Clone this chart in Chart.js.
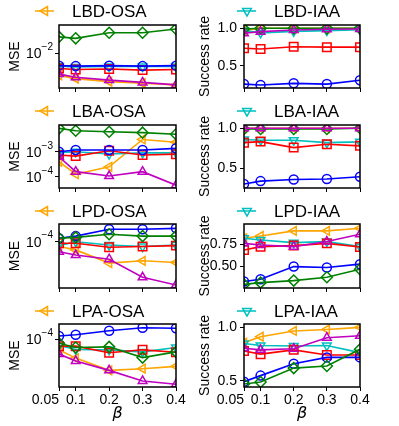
<!DOCTYPE html>
<html>
<head>
<meta charset="utf-8">
<script src="https://cdn.jsdelivr.net/npm/chart.js@4.4.0/dist/chart.umd.min.js"></script>
<style>
  html, body { margin: 0; padding: 0; background: #fff; }
  #fig { position: relative; width: 399px; height: 426px; overflow: hidden; }
  #fig canvas { position: absolute; }
</style>
</head>
<body>
<div id="fig"></div>
<script>
// x values (beta) and x tick labels
var betas = [0.05, 0.1, 0.2, 0.3, 0.4];
var xTickValues = [0.05, 0.1, 0.2, 0.3, 0.4];

var panelTitles = ['LBD-OSA', 'LBD-IAA', 'LBA-OSA', 'LBA-IAA', 'LPD-OSA', 'LPD-IAA', 'LPA-OSA', 'LPA-IAA'];

// each panel: rows in series order orange(<), cyan(v), red(s), blue(o), green(D), magenta(^)
var lbdOsa = [
  [0.0048, 0.0043, 0.0039, 0.0037, 0.0035],
  [0.0065, 0.0063, 0.0064, 0.0064, 0.0064],
  [0.0060, 0.0058, 0.0059, 0.0057, 0.0058],
  [0.0066, 0.0065, 0.0066, 0.0065, 0.0066],
  [0.0170, 0.0162, 0.0195, 0.0195, 0.0220],
  [0.0050, 0.0045, 0.0041, 0.0038, 0.0035]
];
var lbdIaa = [
  [0.97, 1.0, 1.0, 1.0, 1.0],
  [0.97, 0.94, 0.96, 0.97, 0.98],
  [0.735, 0.725, 0.756, 0.75, 0.75],
  [0.26, 0.248, 0.27, 0.26, 0.31],
  [0.99, 1.0, 1.0, 1.0, 1.0],
  [0.934, 0.956, 0.978, 0.987, 0.99]
];
var lbaOsa = [
  [4.0e-4, 1.26e-4, 2.5e-4, 3.1e-3, 2.4e-3],
  [9.1e-4, 1.0e-3, 8.1e-4, 9.0e-4, 9.0e-4],
  [7.4e-4, 6.7e-4, 1.1e-3, 7.4e-4, 8.0e-4],
  [1.0e-3, 1.17e-3, 1.17e-3, 1.17e-3, 1.37e-3],
  [8.6e-3, 6.9e-3, 6.3e-3, 5.8e-3, 5.0e-3],
  [6.3e-4, 1.6e-4, 1.07e-4, 1.6e-4, 4.6e-5]
];
var lbaIaa = [
  [1.0, 1.0, 1.0, 1.0, 1.0],
  [0.86, 0.85, 0.85, 0.82, 0.83],
  [0.82, 0.833, 0.758, 0.8, 0.78],
  [0.304, 0.34, 0.36, 0.366, 0.395],
  [0.99, 0.99, 0.99, 0.99, 1.0],
  [1.0, 1.0, 1.0, 1.0, 1.0]
];
var lpdOsa = [
  [8.3e-5, 7.3e-5, 4.4e-5, 4.8e-5, 4.5e-5],
  [8.6e-5, 1.0e-4, 8.8e-5, 8.3e-5, 8.8e-5],
  [9.4e-5, 9.4e-5, 8.1e-5, 8.3e-5, 8.6e-5],
  [1.14e-4, 1.24e-4, 1.61e-4, 1.61e-4, 1.67e-4],
  [1.14e-4, 1.18e-4, 1.33e-4, 1.24e-4, 1.24e-4],
  [6.8e-5, 6.0e-5, 5.1e-5, 2.55e-5, 1.9e-5]
];
var lpdIaa = [
  [0.817, 0.843, 0.9, 0.9, 0.93],
  [0.817, 0.798, 0.768, 0.78, 0.723],
  [0.686, 0.723, 0.735, 0.76, 0.72],
  [0.332, 0.358, 0.5, 0.49, 0.527],
  [0.30, 0.32, 0.343, 0.38, 0.47],
  [0.76, 0.742, 0.723, 0.78, 0.863]
];
var lpaOsa = [
  [6.6e-5, 4.8e-5, 3.0e-5, 3.2e-5, 3.5e-5],
  [7.8e-5, 6.7e-5, 6.6e-5, 6.1e-5, 7.2e-5],
  [7.6e-5, 7.6e-5, 5.9e-5, 6.6e-5, 6.0e-5],
  [1.12e-4, 1.18e-4, 1.37e-4, 1.54e-4, 1.51e-4],
  [8.5e-5, 7.2e-5, 7.4e-5, 4.9e-5, 6.1e-5],
  [5.6e-5, 4.3e-5, 3.0e-5, 2.0e-5, 1.76e-5]
];
var lpaIaa = [
  [0.857, 0.913, 0.966, 0.98, 1.0],
  [0.85, 0.83, 0.826, 0.83, 0.764],
  [0.78, 0.75, 0.79, 0.742, 0.742],
  [0.494, 0.55, 0.66, 0.72, 0.72],
  [0.472, 0.49, 0.62, 0.64, 0.795],
  [0.805, 0.79, 0.80, 0.903, 0.922]
];

// y ticks
var msePowers = [[-2], [-3, -4], [-4], [-4]];
var rateTicks = [[0.5, 1.0], [0.5, 1.0], [0.5, 0.75], [0.5, 1.0]];

var panelData = [lbdOsa, lbdIaa, lbaOsa, lbaIaa, lpdOsa, lpdIaa, lpaOsa, lpaIaa];

var seriesStyles = [
  { color: '#FFA500', pointStyle: 'triangle', rotation: -90, radius: 5 },
  { color: '#00BFBF', pointStyle: 'triangle', rotation: 180, radius: 5 },
  { color: '#FF0000', pointStyle: 'rect', rotation: 0, radius: 6 },
  { color: '#0000FF', pointStyle: 'circle', rotation: 0, radius: 4.5 },
  { color: '#008000', pointStyle: 'rectRot', rotation: 0, radius: 5.5 },
  { color: '#BF00BF', pointStyle: 'triangle', rotation: 0, radius: 5 }
];

var FONT = 'Liberation Sans';
var rowTop = [0, 100, 200, 300];
var rowH = [100, 100, 100, 126];
var plotTop = [25, 25, 24, 24];
var plotBottom = [88, 88, 88, 87];
// column layouts (canvas left, width, plot left, plot right) in canvas px
var cols = [
  { left: 0, width: 199, plotL: 59, plotR: 176, yTitle: 'MSE', titlePad: 7, legendX: -24 },
  { left: 192, width: 207, plotL: 52, plotR: 168, yTitle: 'Success rate', titlePad: 5, legendX: -7 }
];

function drawMarker(ctx, st, x, y) {
  ctx.save();
  ctx.strokeStyle = st.color;
  ctx.fillStyle = 'rgba(0,0,0,0)';
  ctx.lineWidth = 1.5;
  Chart.helpers.drawPoint(ctx, { pointStyle: st.pointStyle, rotation: st.rotation, radius: st.radius, borderWidth: 1.5 }, x, y);
  ctx.restore();
}

var panelPlugin = {
  id: 'panelDecor',
  afterDraw: function (chart) {
    var o = chart.options.plugins.panelDecor;
    var ctx = chart.ctx, a = chart.chartArea;
    ctx.save();
    // frame
    ctx.strokeStyle = '#000';
    ctx.lineWidth = 1.5;
    ctx.strokeRect(a.left, a.top, a.right - a.left, a.bottom - a.top);

    // log tick labels 10^p
    if (o.powers) {
      var ys = chart.scales.y;
      o.powers.forEach(function (p) {
        var y = ys.getPixelForValue(Math.pow(10, p));
        var exp = '\u2212' + Math.abs(p);
        ctx.fillStyle = '#000';
        ctx.textAlign = 'right';
        ctx.textBaseline = 'middle';
        ctx.font = '10px ' + FONT;
        var ew = ctx.measureText(exp).width;
        var xe = a.left - 6;
        ctx.fillText(exp, xe, y - 6);
        ctx.font = '14px ' + FONT;
        ctx.fillText('10', xe - ew, y + 1);
      });
    }

    // x tick labels on bottom row
    if (o.xLabels) {
      var xs = chart.scales.x;
      ctx.fillStyle = '#000';
      ctx.font = '14px ' + FONT;
      ctx.textBaseline = 'middle';
      xTickValues.forEach(function (v, i) {
        var x = xs.getPixelForValue(v);
        ctx.textAlign = i === 0 ? 'right' : 'center';
        ctx.fillText(String(v), i === 0 ? x : x, a.bottom + 13);
      });
    }

    // legend entry
    var st = seriesStyles[o.legendSeries];
    var lx = a.left + o.legendX;
    var ly = 11;
    ctx.strokeStyle = st.color;
    ctx.lineWidth = 1.5;
    ctx.beginPath();
    ctx.moveTo(lx, ly);
    ctx.lineTo(lx + 19, ly);
    ctx.stroke();
    drawMarker(ctx, st, lx + 10, ly);
    ctx.fillStyle = '#000';
    ctx.font = '17px ' + FONT;
    ctx.textAlign = 'left';
    ctx.textBaseline = 'middle';
    ctx.fillText(o.title, lx + 37, ly + 1);
    ctx.restore();
  }
};

var fig = document.getElementById('fig');

panelData.forEach(function (rows, idx) {
  var r = Math.floor(idx / 2), c = idx % 2;
  var col = cols[c];
  var isBottom = r === 3;
  var cv = document.createElement('canvas');
  cv.width = col.width;
  cv.height = rowH[r];
  cv.style.left = col.left + 'px';
  cv.style.top = rowTop[r] + 'px';
  cv.style.width = col.width + 'px';
  cv.style.height = rowH[r] + 'px';
  fig.appendChild(cv);

  var datasets = rows.map(function (vals, i) {
    var st = seriesStyles[i];
    return {
      label: panelTitles[idx] + ' ' + i,
      data: betas.map(function (b, k) { return { x: b, y: vals[k] }; }),
      borderColor: st.color,
      backgroundColor: st.color,
      borderWidth: 1.6,
      pointStyle: st.pointStyle,
      pointRotation: st.rotation,
      pointRadius: st.radius,
      pointBorderWidth: 1.5,
      pointBorderColor: st.color,
      pointBackgroundColor: 'rgba(0,0,0,0)',
      tension: 0,
      order: seriesStyles.length - i
    };
  });

  var yScale;
  var yTitle = {
    display: true, text: col.yTitle, color: '#000',
    font: { family: FONT, size: 14 }, padding: { top: col.titlePad, bottom: 0 }
  };
  var yGrid = { drawOnChartArea: false, drawTicks: true, tickLength: 4, color: '#000', lineWidth: 1 };
  if (c === 0) {
    var pw = msePowers[r];
    var ranges = [[-2.5, -1.6], [-4.45, -1.93], [-4.772, -3.705], [-4.8, -3.75]];
    yScale = {
      type: 'logarithmic',
      min: Math.pow(10, ranges[r][0]),
      max: Math.pow(10, ranges[r][1]),
      afterBuildTicks: function (s) { s.ticks = pw.map(function (p) { return { value: Math.pow(10, p) }; }); },
      ticks: { display: false },
      grid: yGrid,
      border: { display: false },
      title: yTitle,
      afterFit: function (s) { s.width = col.plotL; }
    };
  } else {
    var tv = rateTicks[r];
    var lims = [[0.208, 1.044], [0.254, 1.04], [0.26, 0.977], [0.444, 1.031]];
    var dec = r === 2 ? 2 : 1;
    yScale = {
      type: 'linear',
      min: lims[r][0],
      max: lims[r][1],
      afterBuildTicks: function (s) { s.ticks = tv.map(function (v) { return { value: v }; }); },
      ticks: {
        color: '#000', font: { family: FONT, size: 14 }, padding: 3,
        autoSkip: false, maxRotation: 0,
        callback: function (v) { return Number(v).toFixed(dec); }
      },
      grid: yGrid,
      border: { display: false },
      title: yTitle,
      afterFit: function (s) { s.width = col.plotL; }
    };
  }

  new Chart(cv, {
    type: 'line',
    data: { datasets: datasets },
    options: {
      responsive: false,
      animation: false,
      devicePixelRatio: 1,
      layout: { padding: { top: plotTop[r], right: col.width - col.plotR, bottom: 0, left: 0 } },
      scales: {
        x: {
          type: 'linear',
          min: 0.05,
          max: 0.4,
          afterBuildTicks: function (s) { s.ticks = xTickValues.map(function (v) { return { value: v }; }); },
          ticks: { display: false },
          grid: { drawOnChartArea: false, drawTicks: true, tickLength: 4, color: '#000', lineWidth: 1 },
          border: { display: false },
          title: {
            display: isBottom, text: '\u03B2', color: '#000',
            font: { family: 'DejaVu Sans', size: 16, style: 'italic' }, padding: { top: 0, bottom: 3 }
          },
          afterFit: function (s) { s.height = rowH[r] - plotBottom[r]; }
        },
        y: yScale
      },
      plugins: {
        legend: { display: false },
        tooltip: { enabled: false },
        panelDecor: {
          title: panelTitles[idx],
          legendSeries: c === 0 ? 0 : 1,
          legendX: col.legendX,
          powers: c === 0 ? msePowers[r] : null,
          xLabels: isBottom
        }
      }
    },
    plugins: [panelPlugin]
  });
});
</script>
</body>
</html>
